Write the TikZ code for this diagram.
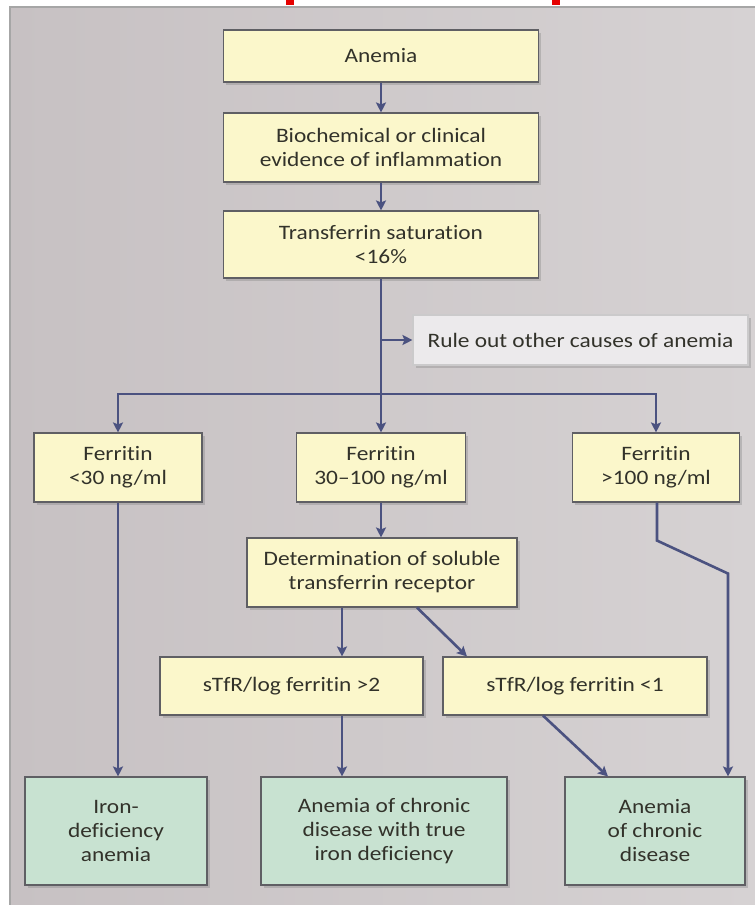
\documentclass[tikz,border=0pt]{standalone}
\usepackage{fontspec}
\setmainfont{Carlito}[FakeStretch=1.14,Ligatures={NoCommon,NoContextual}]
\usetikzlibrary{arrows.meta,shadows,calc}
\definecolor{boxyellow}{RGB}{251,247,203}
\definecolor{boxgreen}{RGB}{200,226,209}
\definecolor{boxgray}{RGB}{236,234,236}
\definecolor{lineblue}{RGB}{75,82,128}
\definecolor{boxedge}{RGB}{95,95,100}
\definecolor{txt}{RGB}{50,50,42}
\definecolor{panelA}{RGB}{199,193,195}
\definecolor{panelB}{RGB}{214,210,211}
\tikzset{
  basebox/.style={draw=boxedge, line width=1.1pt, text=txt, align=center,
    font=\fontsize{20.5}{24}\selectfont, inner sep=2pt,
    drop shadow={opacity=0.35, shadow xshift=2.5pt, shadow yshift=-3pt}},
  ybox/.style={basebox, fill=boxyellow},
  gbox/.style={basebox, fill=boxgreen},
  wbox/.style={basebox, fill=boxgray, draw=boxgray!70!gray},
  conn/.style={draw=lineblue, line width=2.6pt},
  arr/.style={conn, -{Stealth[length=10pt,width=10pt,inset=2pt]}}
}
\begin{document}
\begin{tikzpicture}[x=1pt,y=-1pt]
\useasboundingbox (0,0) rectangle (755,905);
\fill[white] (0,0) rectangle (755,905);
% panel
\shade[left color=panelA, right color=panelB] (10,7) rectangle (755,905);
\draw[gray!70, line width=1.2pt] (10,905) -- (10,7) -- (755,7);
% red fragments at top
\fill[red!90!black] (286,0) rectangle (294,5);
\fill[red!90!black] (552,0) rectangle (560,5);

% nodes
\node[ybox, minimum width=315pt, minimum height=52pt] (anemia) at (381,56) {Anemia};
\node[ybox, minimum width=315pt, minimum height=69pt] (bio) at (381,147.5) {Biochemical or clinical\\evidence of inflammation};
\node[ybox, minimum width=315pt, minimum height=67pt] (tsat) at (381,244.5) {Transferrin saturation\\{<}16\%};
\node[wbox, minimum width=335pt, minimum height=50pt] (rule) at (580.5,340) {Rule out other causes of anemia};
\node[ybox, minimum width=168pt, minimum height=69pt] (f1) at (118,467.5) {Ferritin\\{<}30 ng/ml};
\node[ybox, minimum width=169pt, minimum height=69pt] (f2) at (381,467.5) {Ferritin\\30--100 ng/ml};
\node[ybox, minimum width=167pt, minimum height=69pt] (f3) at (656,467.5) {Ferritin\\{>}100 ng/ml};
\node[ybox, minimum width=270pt, minimum height=69pt] (det) at (382,572.5) {Determination of soluble\\transferrin receptor};
\node[ybox, minimum width=263pt, minimum height=58pt] (s1) at (291.5,686) {sTfR/log ferritin {>}2};
\node[ybox, minimum width=264pt, minimum height=58pt] (s2) at (575,686) {sTfR/log ferritin {<}1};
\node[gbox, minimum width=182pt, minimum height=108pt] (r1) at (116,831) {Iron-\\deficiency\\anemia};
\node[gbox, minimum width=246pt, minimum height=108pt] (r2) at (384,831) {Anemia of chronic\\disease with true\\iron deficiency};
\node[gbox, minimum width=180pt, minimum height=108pt] (r3) at (655,831) {Anemia\\of chronic\\disease};

% connectors
\draw[arr] (anemia) -- (bio);
\draw[arr] (bio) -- (tsat);
\coordinate (br) at (381,394);
\draw[conn] (tsat.south) -- (br);
\draw[arr] (tsat.south |- rule.west) -- (rule.west);
\draw[arr] (br) -| (f1.north);
\draw[arr] (br) -- (f2.north);
\draw[arr] (br) -| (f3.north);
\draw[arr] (f2.south) -- (f2.south |- det.north);
\coordinate (d1) at ($(det.south)+(-40,0)$);
\draw[arr] (d1) -- (d1 |- s1.north);
\draw[arr] ($(det.south)+(35,0)$) -- ($(s2.north)+(-108,0)$);
\coordinate (s1o) at ($(s1.south)+(50.5,0)$);
\draw[arr] (s1o) -- (s1o |- r2.north);
\draw[arr] ($(s2.south)+(-32,0)$) -- ($(r3.north)+(-47,0)$);
\draw[arr] (f1.south) -- (f1.south |- r1.north);
\coordinate (f3o) at ($(f3.south)+(1,0)$);
\coordinate (f3k) at ($(f3o)+(71,71)$);
\draw[arr] (f3o) -- ++(0,38) -- ++(71,33) -- (f3k |- r3.north);
\end{tikzpicture}
\end{document}
